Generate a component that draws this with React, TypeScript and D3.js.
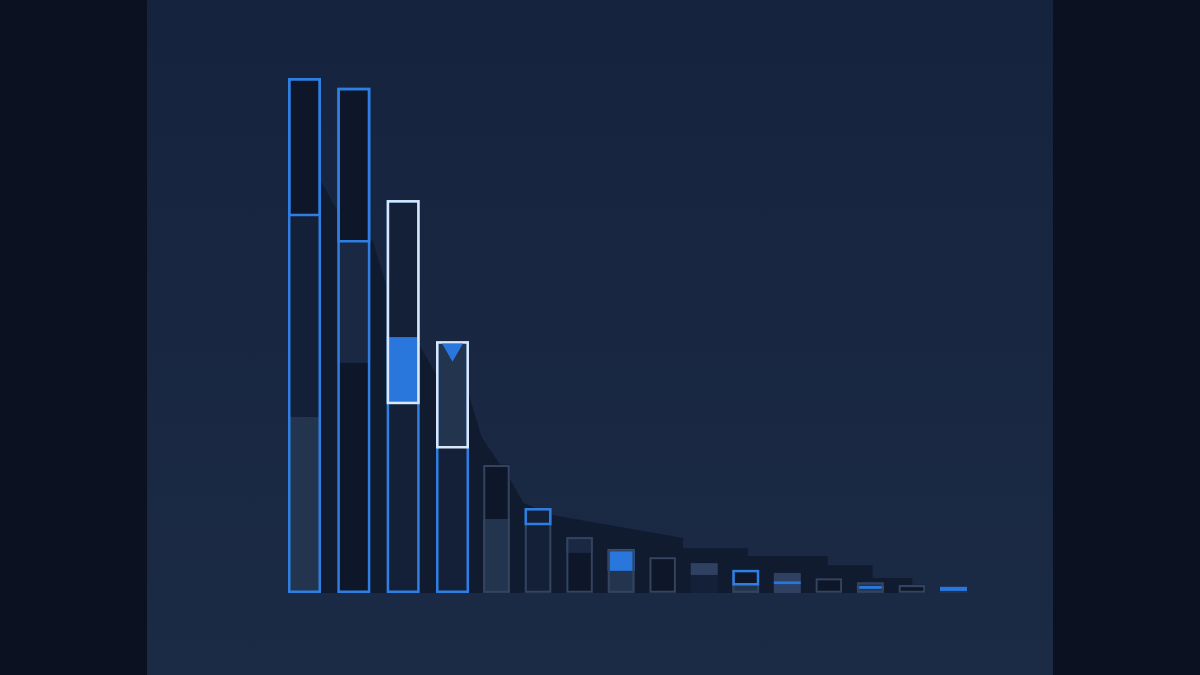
import React from 'react';
import * as d3 from 'd3';

// categories (unlabelled in the picture)
const categories = ['C01', 'C02', 'C03', 'C04', 'C05', 'C06', 'C07', 'C08', 'C09', 'C10', 'C11', 'C12', 'C13', 'C14', 'C15', 'C16'];

// stacked segments, bottom to top
const lowerSeg = [34.2, 44.7, 36.9, 28.3, 14.4, 13.4, 7.8, 4.3, 7.0, 3.5, 1.7, 1.7, 2.9, 0.8, 0.8, 0.4];
const middleSeg = [39.2, 23.6, 12.8, 0, 0, 0, 0, 0, 0, 0, 0, 0.6, 0, 0.6, 0.2, 0.8];
const upperSeg = [26.6, 29.8, 26.6, 20.6, 10.5, 3.1, 3.1, 4.2, 0, 2.3, 2.8, 1.6, 0, 0.7, 0.6, 0];

// fill tone of each segment
const lowerTone = ['slate', 'ink', 'deep', 'deep', 'slate', 'deep', 'ink', 'slate', 'ink', 'deep', 'slate', 'steel', 'ink', 'slate', 'ink', 'slate'];
const middleTone = ['deep', 'mid', 'blue', 'deep', 'ink', 'ink', 'ink', 'ink', 'ink', 'ink', 'ink', 'blue', 'ink', 'blue', 'ink', 'blue'];
const upperTone = ['ink', 'ink', 'deep', 'slate', 'ink', 'deep', 'mid', 'blue', 'ink', 'steel', 'ink', 'steel', 'ink', 'slate', 'deep', 'ink'];

// outline of the whole bar, and the framed (highlighted) part on top
const outline = ['blue', 'blue', 'blue', 'blue', 'gray', 'gray', 'gray', 'gray', 'gray', 'none', 'gray', 'none', 'gray', 'gray', 'gray', 'none'];
const frameFrom = [2, 2, 1, 2, -1, 2, -1, -1, -1, -1, 2, -1, -1, -1, -1, -1];
const frameColor = ['blue', 'blue', 'white', 'white', 'none', 'blue', 'none', 'none', 'none', 'none', 'blue', 'none', 'none', 'none', 'none', 'none'];
const markerAt = ['C04'];

// dark cast shadow behind the bars (category position, level)
const shadowAt = [0, 0.35, 0.69, 1.38, 1.7, 2.35, 2.7, 3.32, 3.66, 4.34, 4.65, 5.37, 8.49, 8.49, 10.05, 10.05, 11.97, 11.97, 13.05, 13.05, 14.01, 14.01];
const shadowLevel = [82, 79.6, 73.8, 68.5, 58.3, 47.8, 41.9, 40.0, 30.3, 21.9, 17.5, 15.1, 10.7, 8.7, 8.7, 7.2, 7.2, 5.4, 5.4, 2.9, 2.9, 0];

const W = 1200;
const H = 675;

const tones: Record<string, string> = {
  ink: '#0e1729',
  deep: '#142038',
  mid: '#1a2843',
  slate: '#23344f',
  steel: '#2f4061',
  blue: '#2977dd',
};
const strokes: Record<string, string> = {
  blue: '#2f7fe2',
  white: '#d9e7f7',
  gray: '#34445f',
};

export default function App() {
  const y = d3.scaleLinear().domain([0, 100]).range([593, 78]);
  // featured first four bars are a bit wider and spaced more
  const xc = d3.scaleLinear().domain([0, 3, 4, 15]).range([304.5, 452.5, 496.5, 953.5]);
  const barW = (i: number) => (i < 4 ? 33 : 27);

  const shadowPts = shadowAt.map((a, i) => [a, shadowLevel[i]] as [number, number]);
  const shadowArea = d3.area<[number, number]>()
    .x(d => xc(d[0]))
    .y0(y(0))
    .y1(d => y(d[1]))
    .curve(d3.curveLinear);

  const bars = categories.map((c, i) => {
    const segs = [lowerSeg[i], middleSeg[i], upperSeg[i]];
    const toneArr = [lowerTone[i], middleTone[i], upperTone[i]];
    const stack = d3.cumsum(segs);
    const total = stack[2];
    const w = barW(i);
    const x0 = xc(i) - w / 2;
    return { c, i, segs, toneArr, stack, total, w, x0 };
  });

  const tri = d3.symbol().type(d3.symbolTriangle).size(190)();

  return (
    <div style={{ position: 'fixed', left: 0, top: 0, width: W, height: H }}>
      <svg width={W} height={H} viewBox={`0 0 ${W} ${H}`} style={{ display: 'block' }}>
        <defs>
          <linearGradient id="panel" x1="0" y1="0" x2="0" y2="1">
            <stop offset="0" stopColor="#16233e" />
            <stop offset="1" stopColor="#1b2a45" />
          </linearGradient>
        </defs>
        <rect x={0} y={0} width={W} height={H} fill="#0b1120" />
        <rect x={147} y={0} width={906} height={H} fill="url(#panel)" />

        <path d={shadowArea(shadowPts) ?? ''} fill="#101a2f" opacity={0.92} />

        {bars.map(b => (
          <g key={b.c}>
            {b.segs.map((v, k) => {
              if (v <= 0) return null;
              const lo = k === 0 ? 0 : b.stack[k - 1];
              const hi = b.stack[k];
              return (
                <rect
                  key={k}
                  x={b.x0}
                  y={y(hi)}
                  width={b.w}
                  height={y(lo) - y(hi)}
                  fill={tones[b.toneArr[k]]}
                />
              );
            })}
            {outline[b.i] !== 'none' && (
              <rect
                x={b.x0 + 1.25}
                y={y(b.total) + 1.25}
                width={b.w - 2.5}
                height={y(0) - y(b.total) - 2.5}
                fill="none"
                stroke={strokes[outline[b.i]]}
                strokeWidth={outline[b.i] === 'gray' ? 2 : 2.5}
              />
            )}
            {frameFrom[b.i] >= 0 && (
              <rect
                x={b.x0 + 1.25}
                y={y(b.total) + 1.25}
                width={b.w - 2.5}
                height={y(frameFrom[b.i] === 0 ? 0 : b.stack[frameFrom[b.i] - 1]) - y(b.total) - 1.25}
                fill="none"
                stroke={strokes[frameColor[b.i]]}
                strokeWidth={2.5}
              />
            )}
            {markerAt.includes(b.c) && (
              <path
                d={tri ?? ''}
                transform={`translate(${xc(b.i)},${y(b.total) + 8.5}) rotate(180)`}
                fill={tones.blue}
              />
            )}
          </g>
        ))}
      </svg>
    </div>
  );
}
